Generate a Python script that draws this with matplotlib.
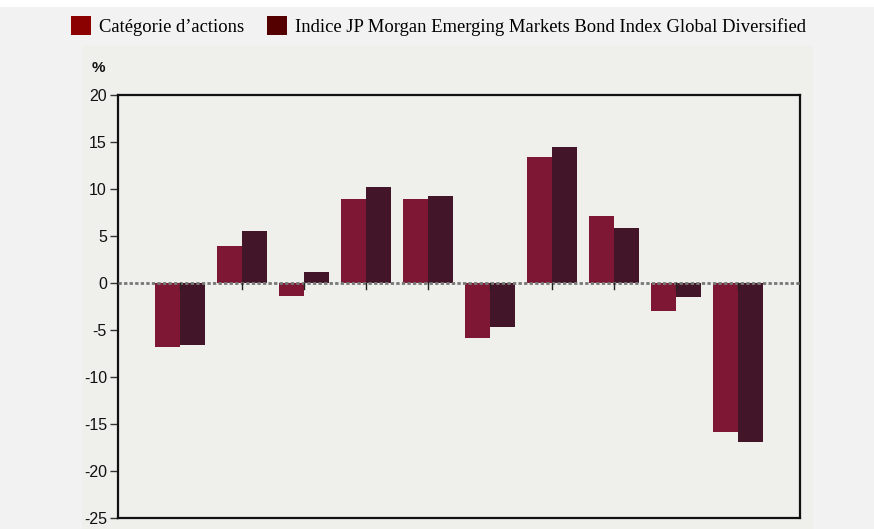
import numpy as np
import matplotlib
matplotlib.use('Agg')
import matplotlib.pyplot as plt
from matplotlib.patches import Rectangle, Patch

# values (%)
series_names = ['Catégorie d\u2019actions',
                'Indice JP Morgan Emerging Markets Bond Index Global Diversified']
categorie = [-6.8, 3.9, -1.4, 8.9, 8.9, -5.8, 13.4, 7.1, -3.0, -15.8]
indice = [-6.6, 5.5, 1.2, 10.2, 9.3, -4.7, 14.5, 5.9, -1.5, -16.9]
y_ticks = [20, 15, 10, 5, 0, -5, -10, -15, -20, -25]

bar_colors = ['#7e1733', '#421628']
legend_colors = ['#8b0000', '#550000']
panel_color = '#efefeb'

fig = plt.figure(figsize=(8.74, 5.29), dpi=100, facecolor='#f2f2f2')

# white strip at the very top and the inner chart panel (behind the axes)
fig.patches.append(Rectangle((0, 1 - 7 / 529), 1, 7 / 529, transform=fig.transFigure,
                             facecolor='white', edgecolor='none', zorder=-2))
fig.patches.append(Rectangle((82 / 874, 0), (813 - 82) / 874, (529 - 46) / 529,
                             transform=fig.transFigure, facecolor=panel_color,
                             edgecolor='none', zorder=-2))

ax = fig.add_axes([118 / 874, 1 - 518 / 529, (800 - 118) / 874, (518 - 95) / 529])
ax.set_facecolor(panel_color)

x = np.arange(1, len(categorie) + 1)
w = 0.4
ax.bar(x - w / 2, categorie, width=w, color=bar_colors[0], zorder=2)
ax.bar(x + w / 2, indice, width=w, color=bar_colors[1], zorder=2)

# dotted zero line with small ticks at each group
ax.axhline(0, color='#777777', linewidth=2, linestyle=(0, (1.2, 0.8)), zorder=3)
for xi in x:
    ax.plot([xi, xi], [0, -0.65], color='#222222', linewidth=1, zorder=4)

ax.set_xlim(0, 11)
ax.set_ylim(-25, 20)
ax.set_yticks(y_ticks)
ax.set_yticklabels([str(t) for t in y_ticks])
ax.set_xticks([])
ax.tick_params(axis='y', length=6, width=1, color='#333333', pad=2,
               labelsize=11.5, labelcolor='#111111')
for lbl in ax.get_yticklabels():
    lbl.set_family('Liberation Sans')
for s in ax.spines.values():
    s.set_linewidth(1.6)
    s.set_color('#111111')

fig.text(92 / 874, 1 - 68 / 529, '%', fontsize=11, fontweight='bold',
         family='Liberation Sans', va='center', ha='left', color='#111111')

handles = [Patch(facecolor=c, edgecolor='none') for c in legend_colors]
fig.legend(handles, series_names, loc='center left',
           bbox_to_anchor=(71 / 874, 1 - 26 / 529), ncol=2, frameon=False,
           prop={'family': 'Liberation Serif', 'size': 13.4},
           handlelength=1.1, handleheight=1.2, handletextpad=0.42,
           columnspacing=1.2, borderaxespad=0, borderpad=0)

fig.savefig('out.png', dpi=100, facecolor=fig.get_facecolor())
